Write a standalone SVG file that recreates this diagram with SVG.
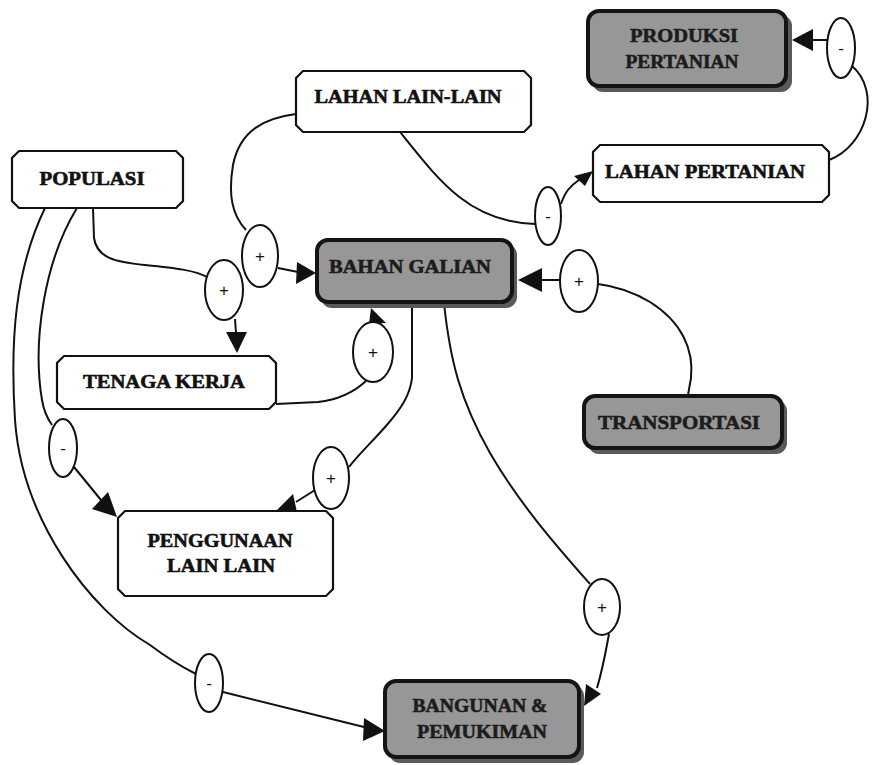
<svg xmlns="http://www.w3.org/2000/svg" width="874" height="765" viewBox="0 0 874 765">
  <style>
    .box { fill: #ffffff; stroke: #111; stroke-width: 2.2; }
    .gbox { fill: #979797; stroke: #141414; stroke-width: 4; }
    .gshadow { fill: #5a5a5a; }
    .lbl { font-family: "Liberation Serif", "Times New Roman", serif; font-weight: bold; font-size: 19px; fill: #111; stroke: #111; stroke-width: 0.6; text-anchor: middle; }
    .glbl { fill: #1c1c1c; stroke: #1c1c1c; }
    .wire { fill: none; stroke: #111; stroke-width: 2; }
    .sign { fill: #ffffff; stroke: #111; stroke-width: 2; }
    .sgn { font-family: "Liberation Sans", Arial, sans-serif; font-size: 17px; fill: #111; text-anchor: middle; }
    .head { fill: #111; }
  </style>
  <rect width="874" height="765" fill="#ffffff"/>

  <!-- connectors, sign bubbles and arrowheads -->
  <g id="connectors">
    <!-- lahan pertanian -> produksi pertanian (-) -->
    <path class="wire" d="M829,160 C 866,146 882,92 852,66"/>
    <path class="wire" d="M827,40 L812,40"/>
    <polygon class="head" points="792,40 813,29 813,51"/>
    <ellipse class="sign" cx="841" cy="48" rx="14" ry="30"/>
    <text class="sgn" x="841" y="54">-</text>

    <!-- lahan lain-lain -> lahan pertanian (-) -->
    <path class="wire" d="M400,132 C 440,182 470,222 535,224"/>
    <path class="wire" d="M561,204 C 565,192 570,186 579,180"/>
    <polygon class="head" points="593,171 585,186 574,176"/>
    <ellipse class="sign" cx="548" cy="216" rx="13" ry="29"/>
    <text class="sgn" x="548" y="222">-</text>

    <!-- lahan lain-lain -> bahan galian (+) -->
    <path class="wire" d="M296,114 C 265,118 240,130 233,165 C 228,195 232,215 246,230"/>
    <path class="wire" d="M278,268 L298,272"/>
    <polygon class="head" points="316,273 297,262 296,284"/>
    <ellipse class="sign" cx="260" cy="256" rx="18" ry="31"/>
    <text class="sgn" x="260" y="262">+</text>

    <!-- populasi -> tenaga kerja (+) -->
    <path class="wire" d="M93,208 L94,238 C 97,258 115,262 145,265 C 175,268 195,270 209,278"/>
    <path class="wire" d="M235,319 L236,333"/>
    <polygon class="head" points="226,332 247,332 237,353"/>
    <ellipse class="sign" cx="224" cy="290" rx="19" ry="30"/>
    <text class="sgn" x="224" y="296">+</text>

    <!-- tenaga kerja -> bahan galian (+) -->
    <path class="wire" d="M276,404 L318,402 C 336,400 352,394 366,381"/>
    <polygon class="head" points="371,308 369,324 386,323"/>
    <ellipse class="sign" cx="373" cy="352" rx="20" ry="30"/>
    <text class="sgn" x="373" y="358">+</text>

    <!-- bahan galian -> penggunaan lain lain (+) -->
    <path class="wire" d="M412,303 L412,378 C 410,396 400,410 386,426 C 372,442 358,455 349,467"/>
    <path class="wire" d="M315,490 L296,502"/>
    <polygon class="head" points="274,513 297,512 293,494"/>
    <ellipse class="sign" cx="331" cy="478" rx="18" ry="31"/>
    <text class="sgn" x="331" y="484">+</text>

    <!-- bahan galian -> bangunan & pemukiman (+) -->
    <path class="wire" d="M444,303 C 450,360 460,400 490,453 C 520,505 560,550 590,584"/>
    <path class="wire" d="M609,634 C 606,650 603,668 597,688"/>
    <polygon class="head" points="584,706 586,684 601,694"/>
    <ellipse class="sign" cx="602" cy="607" rx="18" ry="28"/>
    <text class="sgn" x="602" y="613">+</text>

    <!-- transportasi -> bahan galian (+) -->
    <path class="wire" d="M688,395 L691,378 C 694,350 682,322 650,302 C 630,290 614,286 598,284"/>
    <path class="wire" d="M560,280 L540,280"/>
    <polygon class="head" points="518,280 542,268 542,292"/>
    <ellipse class="sign" cx="579" cy="281" rx="19" ry="31"/>
    <text class="sgn" x="579" y="287">+</text>

    <!-- populasi -> penggunaan lain lain (-) -->
    <path class="wire" d="M77,208 C 45,260 32,340 42,400 C 44,412 47,418 52,425"/>
    <path class="wire" d="M74,467 L101,500"/>
    <polygon class="head" points="117,517 92,509 108,492"/>
    <ellipse class="sign" cx="63" cy="448" rx="14" ry="29"/>
    <text class="sgn" x="63" y="454">-</text>

    <!-- populasi -> bangunan & pemukiman (-) -->
    <path class="wire" d="M45,208 C 15,270 10,340 15,420 C 22,520 90,610 150,645 C 170,660 184,668 196,674"/>
    <path class="wire" d="M223,692 L368,728"/>
    <polygon class="head" points="385,731 364,718 363,741"/>
    <ellipse class="sign" cx="209" cy="683" rx="14" ry="29"/>
    <text class="sgn" x="209" y="689">-</text>
  </g>

  <!-- shaded nodes -->
  <g id="produksi-pertanian">
    <rect class="gshadow" x="592" y="15" width="200" height="77" rx="11"/>
    <rect class="gbox" x="588" y="11" width="198" height="75" rx="11"/>
    <text class="lbl glbl" x="684" y="42" textLength="108" lengthAdjust="spacingAndGlyphs">PRODUKSI</text>
    <text class="lbl glbl" x="682" y="68" textLength="113" lengthAdjust="spacingAndGlyphs">PERTANIAN</text>
  </g>
  <g id="bahan-galian">
    <rect class="gshadow" x="321" y="244" width="196" height="64" rx="11"/>
    <rect class="gbox" x="317" y="240" width="195" height="62" rx="11"/>
    <text class="lbl glbl" x="410" y="273" textLength="162" lengthAdjust="spacingAndGlyphs">BAHAN GALIAN</text>
  </g>
  <g id="transportasi">
    <rect class="gshadow" x="588" y="400" width="199" height="54" rx="11"/>
    <rect class="gbox" x="584" y="396" width="198" height="52" rx="11"/>
    <text class="lbl glbl" x="679" y="429" textLength="162" lengthAdjust="spacingAndGlyphs">TRANSPORTASI</text>
  </g>
  <g id="bangunan-pemukiman">
    <rect class="gshadow" x="389" y="685" width="195" height="78" rx="11"/>
    <rect class="gbox" x="385" y="681" width="194" height="76" rx="11"/>
    <text class="lbl glbl" x="480" y="712" textLength="135" lengthAdjust="spacingAndGlyphs">BANGUNAN &amp;</text>
    <text class="lbl glbl" x="482" y="738" textLength="130" lengthAdjust="spacingAndGlyphs">PEMUKIMAN</text>
  </g>

  <!-- plain nodes (chamfered corners) -->
  <g id="lahan-lain-lain">
    <path class="box" d="M303,71 H524 L531,78 V125 L524,132 H303 L296,125 V78 Z"/>
    <text class="lbl" x="408" y="103" textLength="187" lengthAdjust="spacingAndGlyphs">LAHAN LAIN-LAIN</text>
  </g>
  <g id="lahan-pertanian">
    <path class="box" d="M600,145 H822 L829,152 V195 L822,202 H600 L593,195 V152 Z"/>
    <text class="lbl" x="705" y="178" textLength="200" lengthAdjust="spacingAndGlyphs">LAHAN PERTANIAN</text>
  </g>
  <g id="populasi">
    <path class="box" d="M19,151 H176 L183,158 V201 L176,208 H19 L12,201 V158 Z"/>
    <text class="lbl" x="92" y="185" textLength="105" lengthAdjust="spacingAndGlyphs">POPULASI</text>
  </g>
  <g id="tenaga-kerja">
    <path class="box" d="M64,356 H269 L276,363 V402 L269,409 H64 L57,402 V363 Z"/>
    <text class="lbl" x="164" y="388" textLength="162" lengthAdjust="spacingAndGlyphs">TENAGA KERJA</text>
  </g>
  <g id="penggunaan-lain-lain">
    <path class="box" d="M125,511 H326 L333,518 V589 L326,596 H125 L118,589 V518 Z"/>
    <text class="lbl" x="220" y="547" textLength="145" lengthAdjust="spacingAndGlyphs">PENGGUNAAN</text>
    <text class="lbl" x="221" y="572" textLength="108" lengthAdjust="spacingAndGlyphs">LAIN LAIN</text>
  </g>
</svg>
